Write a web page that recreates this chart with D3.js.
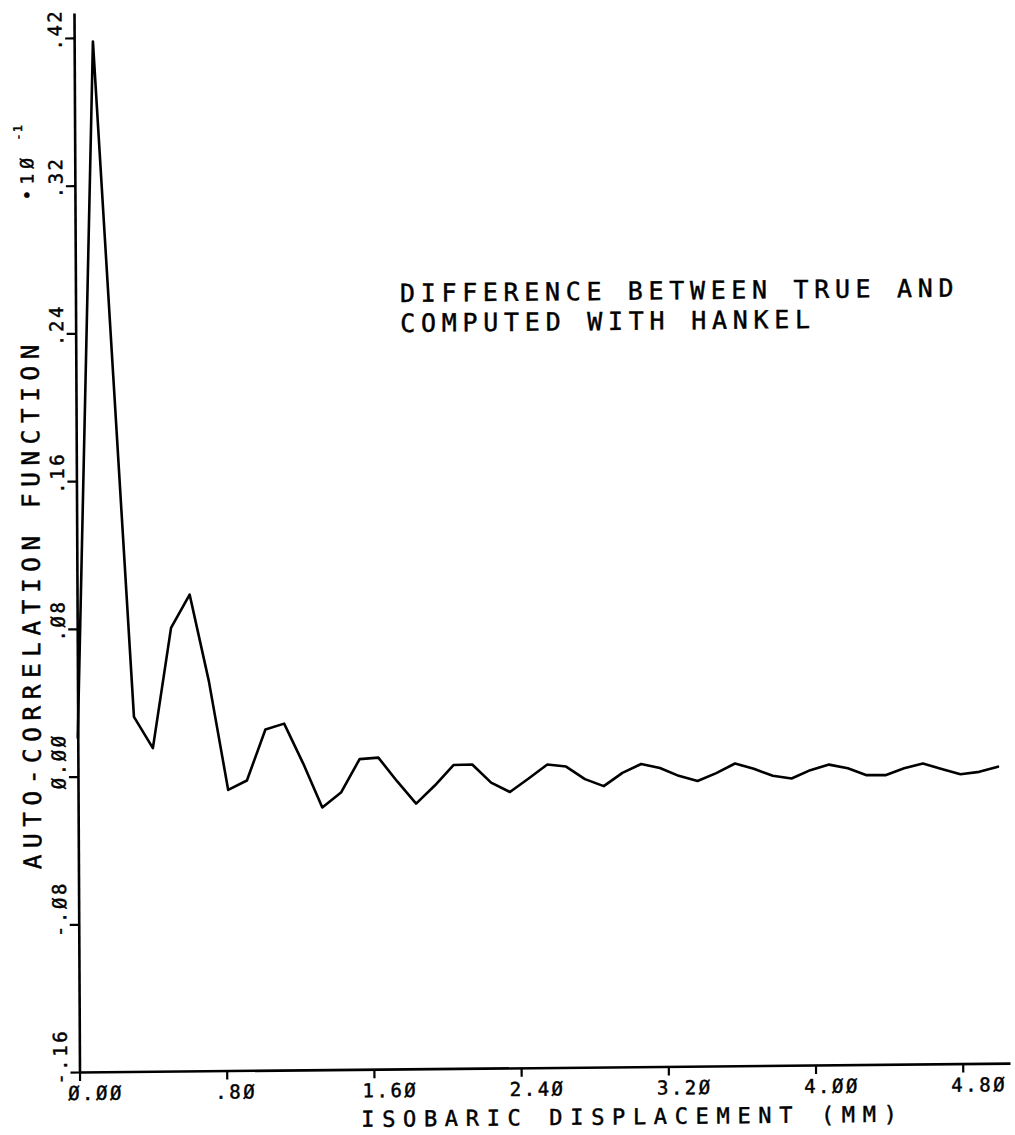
<!DOCTYPE html>
<html>
<head>
<meta charset="utf-8">
<script src="https://cdn.jsdelivr.net/npm/d3@7"></script>
<style>
  html, body { margin: 0; padding: 0; background: #fff; }
  svg { display: block; }
  text {
    font-family: "DejaVu Sans Mono", "Liberation Mono", monospace;
    fill: #000;
    stroke: #000;
    stroke-width: 0.45px;
  }
</style>
</head>
<body>
<svg id="chart" width="1015" height="1135"></svg>
<script>
// Isobaric displacement (mm) of each computed sample
const displacement = [
  0.000, 0.102, 0.204, 0.306, 0.408, 0.510, 0.612, 0.714, 0.816, 0.918,
  1.020, 1.122, 1.224, 1.327, 1.429, 1.531, 1.633, 1.735, 1.837, 1.939,
  2.041, 2.143, 2.245, 2.347, 2.449, 2.551, 2.653, 2.755, 2.857, 2.959,
  3.061, 3.163, 3.265, 3.367, 3.469, 3.571, 3.673, 3.776, 3.878, 3.980,
  4.082, 4.184, 4.286, 4.388, 4.490, 4.592, 4.694, 4.796, 4.898, 5.000
];

// Difference between true and Hankel-computed auto-correlation, per sample
const difference = [
  0.0210, 0.3980, 0.2150, 0.0320, 0.0150, 0.0800, 0.0980, 0.0510, -0.0080, -0.0030,
  0.0245, 0.0276, 0.0060, -0.0180, -0.0100, 0.0080, 0.0087, -0.0043, -0.0164, -0.0067,
  0.0043, 0.0045, -0.0054, -0.0106, -0.0034, 0.0041, 0.0029, -0.0040, -0.0079, -0.0008,
  0.0039, 0.0016, -0.0027, -0.0056, -0.0014, 0.0037, 0.0007, -0.0031, -0.0047, -0.0003,
  0.0026, 0.0005, -0.0033, -0.0034, 0.0002, 0.0027, -0.0003, -0.0033, -0.0021, 0.0006
];

const xTickValues = [0, 0.8, 1.6, 2.4, 3.2, 4.0, 4.8];
const xTickLabels = ["Ø.ØØ", ".8Ø", "1.6Ø", "2.4Ø", "3.2Ø", "4.ØØ", "4.8Ø"];

const yTickValues = [-0.16, -0.08, 0, 0.08, 0.16, 0.24, 0.32, 0.40];
const yTickLabels = ["-.16", "-.Ø8", "Ø.ØØ", ".Ø8", ".16", ".24", ".32", ".42"];

const titleLines = ["DIFFERENCE BETWEEN TRUE AND", "COMPUTED WITH HANKEL"];
const xAxisTitle = "ISOBARIC DISPLACEMENT (MM)";
const yAxisTitle = "AUTO-CORRELATION FUNCTION";

// Axis extents (data units)
const xDomain = [0, 5.057];
const yDomain = [-0.16, 0.4135];

const svg = d3.select("#chart");

// Plotter frame: origin corner and a slight shear of the drawn frame
const ox = 79.5, oy = 1072;
const shearX = 0.0052, shearY = -0.0095;
const g = svg.append("g")
  .attr("transform", `matrix(1,${shearY},${shearX},1,${-shearX * oy},${-shearY * ox})`);

const x = d3.scaleLinear().domain(xDomain).range([ox, 1010]);
const y = d3.scaleLinear().domain(yDomain).range([oy, 13]);

// X axis
const xAxis = g.append("g")
  .attr("transform", `translate(0,${oy})`)
  .call(d3.axisBottom(x)
    .tickValues(xTickValues)
    .tickSize(9)
    .tickSizeOuter(0)
    .tickFormat((d, i) => xTickLabels[i]));

xAxis.attr("font-family", null).attr("font-size", null);
xAxis.select(".domain").attr("stroke-width", 2.6);
xAxis.selectAll(".tick line").attr("stroke-width", 2.2);
xAxis.selectAll(".tick text")
  .attr("x", -12)
  .attr("y", 28)
  .attr("dy", 0)
  .attr("text-anchor", "start")
  .style("font-size", "19px")
  .style("letter-spacing", "2.5px");

// Y axis
const yAxis = g.append("g")
  .attr("transform", `translate(${ox},0)`)
  .call(d3.axisLeft(y)
    .tickValues(yTickValues)
    .tickSize(9)
    .tickSizeOuter(0)
    .tickFormat((d, i) => yTickLabels[i]));

yAxis.attr("font-family", null).attr("font-size", null);
yAxis.select(".domain").attr("stroke-width", 2.6);
yAxis.selectAll(".tick line").attr("stroke-width", 2.2);
yAxis.selectAll(".tick text")
  .attr("transform", "rotate(-90)")
  .attr("x", -12)
  .attr("y", -12.5)
  .attr("dy", 0)
  .attr("text-anchor", "start")
  .style("font-size", "19px")
  .style("letter-spacing", "2.5px");

// Scale multiplier on the y axis
const mult = g.append("text")
  .attr("transform", "rotate(-90)")
  .style("font-size", "18px");
mult.append("tspan")
  .attr("x", -200).attr("y", 38)
  .style("letter-spacing", "5px")
  .text("•1Ø");
mult.append("tspan")
  .attr("x", -140).attr("y", 27)
  .style("font-size", "12px")
  .style("letter-spacing", "1px")
  .text("-1");

// Curve
const line = d3.line()
  .x((d, i) => x(displacement[i]))
  .y(d => y(d));

g.append("path")
  .datum(difference)
  .attr("fill", "none")
  .attr("stroke", "#000")
  .attr("stroke-width", 2.6)
  .attr("stroke-linejoin", "round")
  .attr("stroke-linecap", "round")
  .attr("d", line);

// Annotation
g.selectAll(".title-line")
  .data(titleLines)
  .join("text")
  .attr("class", "title-line")
  .attr("x", 404)
  .attr("y", (d, i) => 305 + i * 30)
  .attr("textLength", d => d.length * 20.5)
  .attr("lengthAdjust", "spacing")
  .style("font-size", "25px")
  .text(d => d);

// Axis titles
g.append("text")
  .attr("x", 361)
  .attr("y", 1129.5)
  .attr("textLength", xAxisTitle.length * 20.6)
  .attr("lengthAdjust", "spacing")
  .style("font-size", "22px")
  .text(xAxisTitle);

g.append("text")
  .attr("transform", "translate(42.4,606.5) rotate(-90)")
  .attr("text-anchor", "middle")
  .attr("textLength", yAxisTitle.length * 21)
  .attr("lengthAdjust", "spacing")
  .style("font-size", "24.5px")
  .text(yAxisTitle);
</script>
</body>
</html>
